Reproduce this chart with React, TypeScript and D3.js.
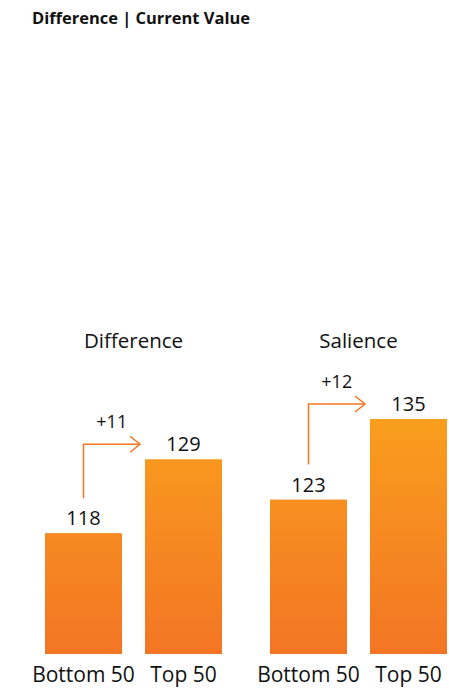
import React from "react";
import * as d3 from "d3";

const groups = ["Difference", "Salience"];
const categories = ["Bottom 50", "Top 50"];
const differenceValues = [118, 129];
const salienceValues = [123, 135];
const deltaLabels = ["+11", "+12"];
const title = "Difference | Current Value";

const W = 449;
const H = 690;

export default function App() {
  const series = [differenceValues, salienceValues];
  const y = d3.scaleLinear().domain([100, 135]).range([654, 419]);
  const outer = d3.scaleBand().domain(groups).range([45, 447]).paddingInner(0.2133).paddingOuter(0);
  const font = "'Open Sans', sans-serif";

  return (
    <div style={{ position: "absolute", left: 0, top: 0 }}>
      <svg width={W} height={H} style={{ display: "block" }}>
        <defs>
          <linearGradient id="barGrad" gradientUnits="userSpaceOnUse" x1={0} x2={0} y1={y(135)} y2={y(100)}>
            <stop offset="0%" stopColor="#F99E1E" />
            <stop offset="100%" stopColor="#F37524" />
          </linearGradient>
        </defs>
        <text x={32} y={24} fontFamily={font} fontWeight={700} fontSize={16.3} fill="#111" textLength={218} lengthAdjust="spacingAndGlyphs">
          {title}
        </text>
        {groups.map((g, gi) => {
          const gx = outer(g)!;
          const inner = d3.scaleBand().domain(categories).range([gx, gx + outer.bandwidth()]).paddingInner(0.23);
          const vals = series[gi];
          const x0 = inner(categories[0])!;
          const x1 = inner(categories[1])!;
          const bw = inner.bandwidth();
          const cx0 = x0 + bw / 2;
          const hy = y(vals[1]) - 15;
          const vy0 = y(vals[0]) - 35;
          const tipX = x1 - 5;
          return (
            <g key={g}>
              <text x={(x0 + x1 + bw) / 2} y={348} textAnchor="middle" fontFamily={font} fontSize={20.5} fill="#111">
                {g}
              </text>
              {categories.map((c, ci) => (
                <g key={c}>
                  <rect x={inner(c)!} y={y(vals[ci])} width={bw} height={y(100) - y(vals[ci])} fill="url(#barGrad)" />
                  <text x={inner(c)! + bw / 2} y={y(vals[ci]) - 8} textAnchor="middle" fontFamily={font} fontSize={20} fill="#111">
                    {vals[ci]}
                  </text>
                  <text x={inner(c)! + bw / 2} y={682} textAnchor="middle" fontFamily={font} fontSize={21} fill="#111">
                    {c}
                  </text>
                </g>
              ))}
              <path
                d={`M${cx0},${vy0}V${hy}H${tipX}`}
                fill="none"
                stroke="#F37524"
                strokeWidth={1.5}
              />
              <path
                d={`M${tipX - 10},${hy - 8}L${tipX},${hy}L${tipX - 10},${hy + 8}`}
                fill="none"
                stroke="#F37524"
                strokeWidth={1.5}
              />
              <text x={(cx0 + tipX) / 2} y={hy - 16} textAnchor="middle" fontFamily={font} fontSize={18} fill="#111">
                {deltaLabels[gi]}
              </text>
            </g>
          );
        })}
      </svg>
    </div>
  );
}
